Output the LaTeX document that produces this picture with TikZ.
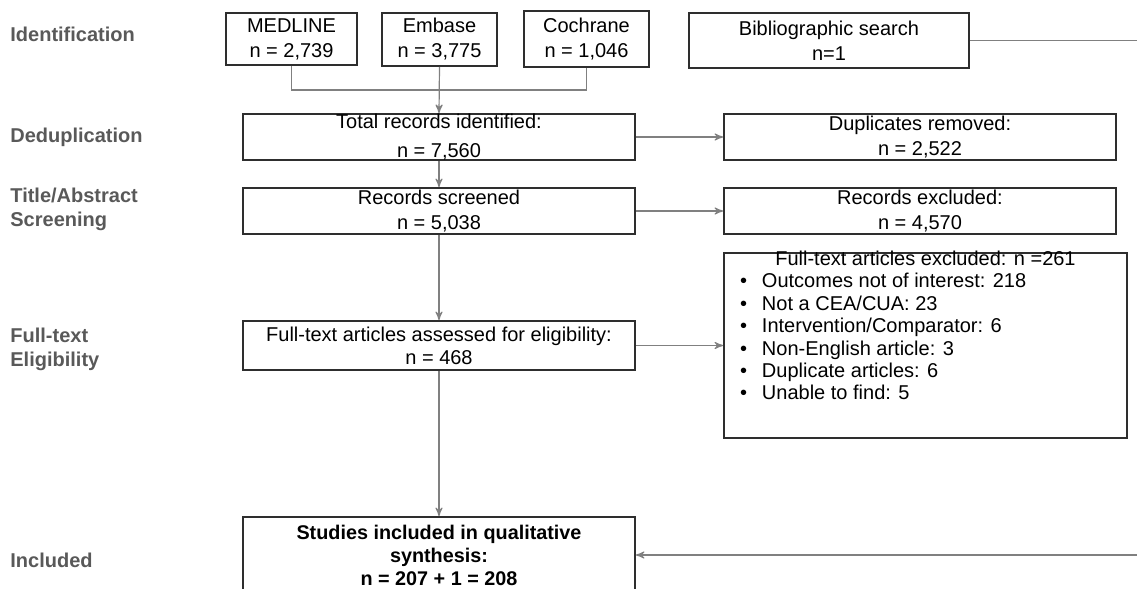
\documentclass[tikz,border=0pt]{standalone}
\usepackage{fontspec}
\setmainfont{Liberation Sans}
\usetikzlibrary{shapes, arrows, positioning}
\definecolor{stagegray}{HTML}{595959}
\definecolor{linegray}{HTML}{808080}
\definecolor{boxline}{HTML}{2E2E2E}

\begin{document}
\begin{tikzpicture}[auto,>=stealth', x=0.5pt, y=-0.5pt]

\tikzstyle{block} = [draw=boxline, shape=rectangle, line width=0.9pt, inner sep=0pt, align=center, font=\fontsize{10}{12.5}\selectfont]
\tikzstyle{wideblock} = [block, minimum width=196pt, minimum height=23pt]
\tikzstyle{stage} = [anchor=west, align=left, inner sep=0pt, text=stagegray, font=\fontsize{10}{12}\selectfont\bfseries]
\tikzstyle{conn} = [draw=linegray, line width=0.6pt]

\clip (0,0) rectangle (1137,589);

%Stage labels
\node[stage] at (10,34) (lid) {Identification};
\node[stage] at (10,137) (ldedup) {Deduplication};
\node[stage] at (10,209) (lscreen) {Title/Abstract\\Screening};
\node[stage] at (10,349) (lfull) {Full-text\\Eligibility};
\node[stage] at (10,560) (lincl) {Included};

%Creating Blocks
\node[block, minimum width=65.5pt, minimum height=26pt] at (291.5,39) (medline) {MEDLINE\\n = 2,739};
\node[block, minimum width=57.5pt, minimum height=26.5pt] at (439.5,39.5) (embase) {Embase\\n = 3,775};
\node[block, minimum width=62.5pt, minimum height=28pt] at (586.5,39) (cochrane) {Cochrane\\n = 1,046};
\node[block, minimum width=140pt, minimum height=27.5pt] at (829,40.5) (biblio) {Bibliographic search\\n=1};

\node[wideblock, font=\fontsize{10}{14.5}\selectfont] at (439,137) (total) {Total records identified:\\n = 7,560};
\node[wideblock] at (920,137) (dupl) {Duplicates removed:\\n = 2,522};
\node[wideblock] at (439,211) (screened) {Records screened\\n = 5,038};
\node[wideblock] at (920,211) (rexcl) {Records excluded:\\n = 4,570};
\node[wideblock, minimum height=24.5pt, font=\fontsize{10}{11.5}\selectfont] at (439,345.5) (assessed) {Full-text articles assessed for eligibility:\\n = 468};
\node[block, minimum width=201.5pt, minimum height=92.5pt, font=\fontsize{10}{11.2}\selectfont] at (925.5,345.5) (ftexcl)
  {\parbox[c][92.5pt][t]{201.5pt}{\vspace*{-1pt}\centering Full-text articles excluded: n =261\par\raggedright
   \hspace*{8pt}\makebox[11pt][l]{•}Outcomes not of interest: 218\par
   \hspace*{8pt}\makebox[11pt][l]{•}Not a CEA/CUA: 23\par
   \hspace*{8pt}\makebox[11pt][l]{•}Intervention/Comparator: 6\par
   \hspace*{8pt}\makebox[11pt][l]{•}Non-English article: 3\par
   \hspace*{8pt}\makebox[11pt][l]{•}Duplicate articles: 6\par
   \hspace*{8pt}\makebox[11pt][l]{•}Unable to find: 5}};
\node[wideblock, minimum height=38pt, font=\fontsize{9.9}{11.5}\selectfont\bfseries] at (439,555) (included) {Studies included in qualitative\\synthesis:\\n = 207 + 1 = 208};

\coordinate (merge) at (439.5,90);
\coordinate (rightend) at (1137,40.5);
\coordinate (rightin) at (1137,555);

%Conecting Blocks
\draw[conn] (medline.south) |- (merge) -| (cochrane.south);
\draw[conn, ->] (embase.south) -- (total.north);
\draw[conn] (biblio.east) -- (rightend);
\draw[conn, ->] (total.east) -- (dupl.west);
\draw[conn, ->] (total.south) -- (screened.north);
\draw[conn, ->] (screened.east) -- (rexcl.west);
\draw[conn, ->] (screened.south) -- (assessed.north);
\draw[conn, ->] (assessed.east) -- (ftexcl.west);
\draw[conn, ->] (assessed.south) -- (included.north);
\draw[conn, ->] (rightin) -- (included.east);
\end{tikzpicture}
\end{document}
